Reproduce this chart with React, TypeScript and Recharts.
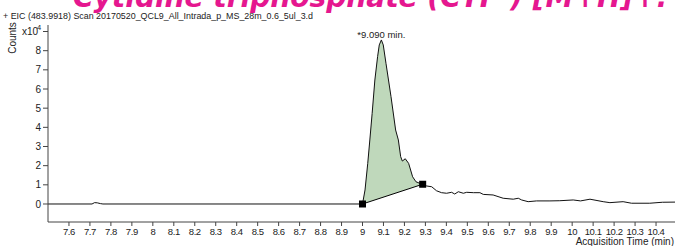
import React from 'react';
import { ComposedChart, Area, Line, XAxis, YAxis, ReferenceLine, ReferenceDot } from 'recharts';

// acquisition time (min) and counts (x10^4)
const times = [
  7.5, 7.71, 7.722, 7.735, 7.75, 7.762, 9.0, 9.012, 9.025, 9.035, 9.046, 9.059, 9.072, 9.08, 9.09,
  9.099, 9.112, 9.136, 9.158, 9.171, 9.182, 9.19, 9.204, 9.22, 9.239, 9.255, 9.282, 9.287,
  9.306, 9.33, 9.353, 9.377, 9.401, 9.425, 9.44, 9.457, 9.481, 9.497, 9.529, 9.56, 9.576,
  9.623, 9.671, 9.719, 9.743, 9.759, 9.79, 9.83, 9.894, 9.941, 10.005, 10.04, 10.085, 10.148,
  10.18, 10.243, 10.283, 10.37, 10.43, 10.5,
];
const counts = [
  0, 0, 0.07, 0.06, 0.02, 0, 0, 0.73, 2.12, 3.34, 4.73, 6.47, 7.69, 8.3, 8.56,
  8.3, 7.34, 5.6, 3.86, 3.34, 2.47, 2.24, 2.36, 2.12, 1.42, 1.16, 1.04, 1.03,
  0.94, 0.9, 0.69, 0.59, 0.56, 0.61, 0.52, 0.64, 0.56, 0.61, 0.59, 0.59, 0.5,
  0.47, 0.3, 0.25, 0.3, 0.21, 0.12, 0.16, 0.16, 0.17, 0.21, 0.16, 0.25, 0.12,
  0.07, 0.12, 0.04, 0.04, 0.09, 0.1,
];

// integrated peak: start / end of baseline and apex
const peakStart = { t: 9.0, v: 0 };
const peakEnd = { t: 9.287, v: 1.03 };
const apex = { t: 9.09, v: 8.56, label: '*9.090 min.' };

const xTicks = [
  7.6, 7.7, 7.8, 7.9, 8, 8.1, 8.2, 8.3, 8.4, 8.5, 8.6, 8.7, 8.8, 8.9, 9, 9.1, 9.2, 9.3, 9.4,
  9.5, 9.6, 9.7, 9.8, 9.9, 10, 10.1, 10.2, 10.3, 10.4,
];
const yTicks = [0, 1, 2, 3, 4, 5, 6, 7, 8, 9];

const data = times.map((t, i) => {
  const row: any = { t, v: counts[i] };
  if (t >= peakStart.t && t <= peakEnd.t) {
    const base = peakStart.v + ((peakEnd.v - peakStart.v) * (t - peakStart.t)) / (peakEnd.t - peakStart.t);
    row.band = [base, counts[i]];
  }
  return row;
});

const FONT = '"Liberation Sans", Arial, sans-serif';
const xTickStyle = { fontSize: 9.5, fill: '#222', fontFamily: FONT, letterSpacing: -0.4 };
const yTickStyle = { fontSize: 10, fill: '#222', fontFamily: FONT };

const Square = (props: any) => (
  <rect x={props.cx - 3.5} y={props.cy - 3.5} width={7} height={7} fill="#000" />
);

const ApexLabel = (props: any) => (
  <text x={props.cx} y={props.cy - 2} textAnchor="middle" fontSize={9.5} fontFamily={FONT} fill="#222">
    {apex.label}
  </text>
);

export default function App() {
  return (
    <div style={{ position: 'absolute', left: 0, top: 0, width: 675, height: 246, overflow: 'hidden', background: '#fff' }}>
      <ComposedChart width={677} height={246} data={data} margin={{ top: 25, right: 0, bottom: 4, left: 8 }}>
        <XAxis
          dataKey="t"
          type="number"
          domain={[7.5, 10.5]}
          ticks={xTicks}
          interval={0}
          allowDataOverflow
          height={20}
          tick={xTickStyle}
          tickSize={4}
          stroke="#444"
        />
        <YAxis
          type="number"
          domain={[-0.94, 9.34]}
          ticks={yTicks}
          interval={0}
          allowDataOverflow
          width={40}
          tick={yTickStyle}
          tickSize={5}
          tickFormatter={(v: number) => (v === 9 ? '' : String(v))}
          stroke="#444"
        />
        <Area
          dataKey="band"
          type="linear"
          fill="#bfd8bb"
          fillOpacity={1}
          stroke="none"
          isAnimationActive={false}
        />
        <Line dataKey="v" type="linear" stroke="#111" strokeWidth={1} dot={false} isAnimationActive={false} />
        <ReferenceLine
          segment={[{ x: peakStart.t, y: peakStart.v }, { x: peakEnd.t, y: peakEnd.v }]}
          stroke="#000"
          strokeWidth={1}
        />
        <ReferenceDot x={peakStart.t} y={peakStart.v} r={4} shape={Square} />
        <ReferenceDot x={peakEnd.t} y={peakEnd.v} r={4} shape={Square} />
        <ReferenceDot x={apex.t} y={apex.v} r={1} shape={ApexLabel} />
      </ComposedChart>
      <svg width={675} height={246} style={{ position: 'absolute', left: 0, top: 0, pointerEvents: 'none' }}>
        <text x={73} y={6.5} fontSize={28} fontWeight="bold" fontStyle="italic" fill="#e5178f" fontFamily='"DejaVu Sans", Verdana, sans-serif' textLength={595} lengthAdjust="spacingAndGlyphs">
          Cytidine triphosphate (CTP ) [M+H]+:
        </text>
        <text x={3} y={19} fontSize={9.5} fill="#222" fontFamily={FONT} textLength={310} lengthAdjust="spacingAndGlyphs">
          + EIC (483.9918) Scan 20170520_QCL9_All_Intrada_p_MS_28m_0.6_5ul_3.d
        </text>
        <text x={22} y={35} fontSize={10} fill="#222" fontFamily={FONT}>x10</text>
        <text x={37} y={30} fontSize={7.5} fill="#222" fontFamily={FONT}>4</text>
        <text transform="translate(16,38) rotate(-90)" textAnchor="middle" fontSize={10} fill="#222" fontFamily={FONT}>
          Counts
        </text>
        <text x={674} y={245} textAnchor="end" fontSize={10} fill="#222" fontFamily={FONT}>
          Acquisition Time (min)
        </text>
      </svg>
    </div>
  );
}
